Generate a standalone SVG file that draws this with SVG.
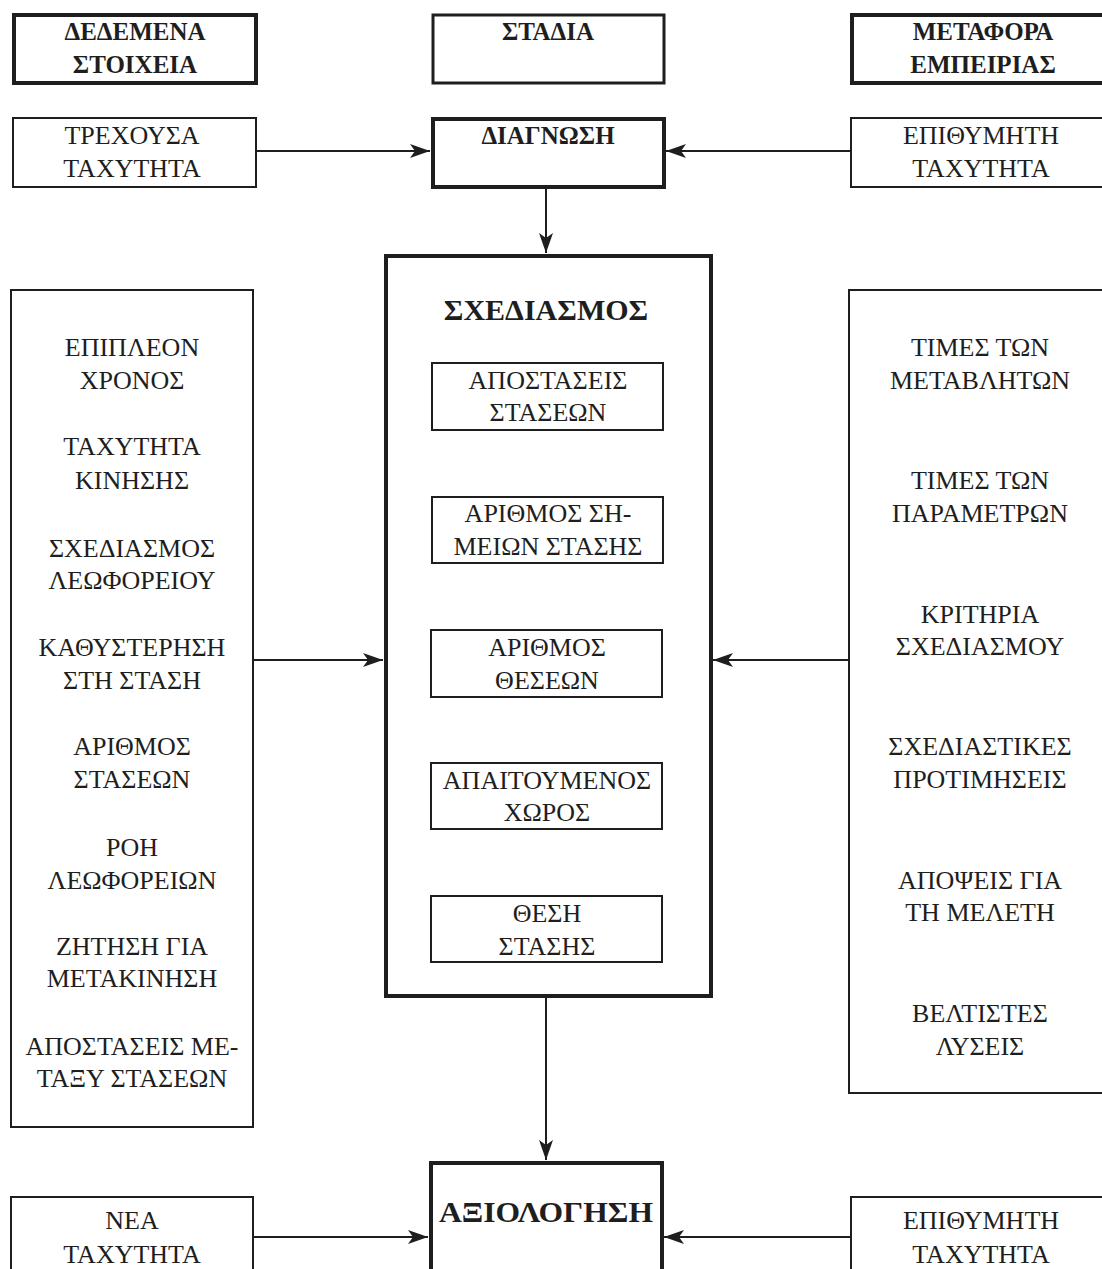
<svg xmlns="http://www.w3.org/2000/svg" width="1102" height="1269" viewBox="0 0 1102 1269">
<style>
.bx{fill:#fff;stroke:#1e1e1e;stroke-width:2}
.tk{fill:#fff;stroke:#1e1e1e;stroke-width:4}
.t{font-family:"Liberation Serif","DejaVu Serif",serif;font-size:26px;fill:#1e1e1e;text-anchor:middle}
.b{font-family:"Liberation Serif","DejaVu Serif",serif;font-size:25px;font-weight:bold;fill:#1e1e1e;text-anchor:middle}
.h{font-family:"Liberation Serif","DejaVu Serif",serif;font-size:30px;font-weight:bold;fill:#1e1e1e;text-anchor:middle}
.ln{fill:none;stroke:#1e1e1e;stroke-width:2;marker-end:url(#ah)}
</style>
<defs>
<marker id="ah" markerUnits="userSpaceOnUse" markerWidth="22" markerHeight="16" refX="20" refY="7" orient="auto">
<path d="M0,0 L20,7 L0,14 L5,7 z" fill="#1e1e1e"/>
</marker>
</defs>
<rect width="1102" height="1269" fill="#fff"/>
<g id="connectors">
<line class="ln" x1="256" y1="151" x2="430" y2="151"/>
<line class="ln" x1="850" y1="151" x2="666" y2="151"/>
<line class="ln" x1="546" y1="187" x2="546" y2="253"/>
<line class="ln" x1="253" y1="660" x2="383" y2="660"/>
<line class="ln" x1="848" y1="660" x2="713" y2="660"/>
<line class="ln" x1="545" y1="430" x2="545" y2="495"/>
<line class="ln" x1="545" y1="563" x2="545" y2="628"/>
<line class="ln" x1="545" y1="697" x2="545" y2="761"/>
<line class="ln" x1="545" y1="829" x2="545" y2="894"/>
<line class="ln" x1="546" y1="997" x2="546" y2="1160"/>
<line class="ln" x1="253" y1="1237" x2="428" y2="1237"/>
<line class="ln" x1="850" y1="1237" x2="664" y2="1237"/>
</g>
<g id="hdr-dedomena"><rect class="tk" x="14" y="15" width="242" height="68"/><text class="b" x="135" y="40">ΔΕΔΕΜΕΝΑ</text><text class="b" x="135" y="73">ΣΤΟΙΧΕΙΑ</text></g>
<g id="hdr-stadia"><rect class="tk" x="433" y="15" width="231" height="68" style="stroke-width:3"/><text class="b" x="548" y="40">ΣΤΑΔΙΑ</text></g>
<g id="hdr-metafora"><rect class="tk" x="852" y="15" width="254" height="68"/><text class="b" x="983" y="40">ΜΕΤΑΦΟΡΑ</text><text class="b" x="983" y="73">ΕΜΠΕΙΡΙΑΣ</text></g>
<g id="trexousa"><rect class="bx" x="13" y="118" width="243" height="69"/><text class="t" x="132" y="144">ΤΡΕΧΟΥΣΑ</text><text class="t" x="132" y="177">ΤΑΧΥΤΗΤΑ</text></g>
<g id="diagnosi"><rect class="tk" x="433" y="119" width="231" height="68"/><text class="b" x="548" y="144">ΔΙΑΓΝΩΣΗ</text></g>
<g id="epithymiti1"><rect class="bx" x="851" y="118" width="255" height="69"/><text class="t" x="981" y="144">ΕΠΙΘΥΜΗΤΗ</text><text class="t" x="981" y="177">ΤΑΧΥΤΗΤΑ</text></g>
<g id="left-data"><rect class="bx" x="11" y="290" width="242" height="837"/>
<text class="t" x="132" y="356">ΕΠΙΠΛΕΟΝ</text><text class="t" x="132" y="389">ΧΡΟΝΟΣ</text>
<text class="t" x="132" y="455">ΤΑΧΥΤΗΤΑ</text><text class="t" x="132" y="489">ΚΙΝΗΣΗΣ</text>
<text class="t" x="132" y="557">ΣΧΕΔΙΑΣΜΟΣ</text><text class="t" x="132" y="589">ΛΕΩΦΟΡΕΙΟΥ</text>
<text class="t" x="132" y="656">ΚΑΘΥΣΤΕΡΗΣΗ</text><text class="t" x="132" y="689">ΣΤΗ ΣΤΑΣΗ</text>
<text class="t" x="132" y="755">ΑΡΙΘΜΟΣ</text><text class="t" x="132" y="788">ΣΤΑΣΕΩΝ</text>
<text class="t" x="132" y="856">ΡΟΗ</text><text class="t" x="132" y="889">ΛΕΩΦΟΡΕΙΩΝ</text>
<text class="t" x="132" y="955">ΖΗΤΗΣΗ ΓΙΑ</text><text class="t" x="132" y="987">ΜΕΤΑΚΙΝΗΣΗ</text>
<text class="t" x="132" y="1055">ΑΠΟΣΤΑΣΕΙΣ ΜΕ-</text><text class="t" x="132" y="1087">ΤΑΞΥ ΣΤΑΣΕΩΝ</text>
</g>
<g id="schediasmos"><rect class="tk" x="386" y="256" width="325" height="740"/><text class="h" x="546" y="320">ΣΧΕΔΙΑΣΜΟΣ</text></g>
<g id="apostaseis"><rect class="bx" x="432" y="363" width="231" height="67"/><text class="t" x="548" y="389">ΑΠΟΣΤΑΣΕΙΣ</text><text class="t" x="548" y="421">ΣΤΑΣΕΩΝ</text></g>
<g id="arithmos-simeion"><rect class="bx" x="432" y="497" width="231" height="66"/><text class="t" x="548" y="522">ΑΡΙΘΜΟΣ ΣΗ-</text><text class="t" x="548" y="555">ΜΕΙΩΝ ΣΤΑΣΗΣ</text></g>
<g id="arithmos-theseon"><rect class="bx" x="431" y="630" width="231" height="67"/><text class="t" x="547" y="656">ΑΡΙΘΜΟΣ</text><text class="t" x="547" y="689">ΘΕΣΕΩΝ</text></g>
<g id="apaitoumenos"><rect class="bx" x="431" y="763" width="231" height="66"/><text class="t" x="547" y="789">ΑΠΑΙΤΟΥΜΕΝΟΣ</text><text class="t" x="547" y="821">ΧΩΡΟΣ</text></g>
<g id="thesi"><rect class="bx" x="431" y="896" width="231" height="66"/><text class="t" x="547" y="922">ΘΕΣΗ</text><text class="t" x="547" y="955">ΣΤΑΣΗΣ</text></g>
<g id="right-exp"><rect class="bx" x="849" y="290" width="257" height="803"/>
<text class="t" x="980" y="356">ΤΙΜΕΣ ΤΩΝ</text><text class="t" x="980" y="389">ΜΕΤΑΒΛΗΤΩΝ</text>
<text class="t" x="980" y="489">ΤΙΜΕΣ ΤΩΝ</text><text class="t" x="980" y="522">ΠΑΡΑΜΕΤΡΩΝ</text>
<text class="t" x="980" y="623">ΚΡΙΤΗΡΙΑ</text><text class="t" x="980" y="655">ΣΧΕΔΙΑΣΜΟΥ</text>
<text class="t" x="980" y="755">ΣΧΕΔΙΑΣΤΙΚΕΣ</text><text class="t" x="980" y="788">ΠΡΟΤΙΜΗΣΕΙΣ</text>
<text class="t" x="980" y="889">ΑΠΟΨΕΙΣ ΓΙΑ</text><text class="t" x="980" y="921">ΤΗ ΜΕΛΕΤΗ</text>
<text class="t" x="980" y="1022">ΒΕΛΤΙΣΤΕΣ</text><text class="t" x="980" y="1055">ΛΥΣΕΙΣ</text>
</g>
<g id="axiologisi"><rect class="tk" x="431" y="1163" width="231" height="120"/><text class="h" x="546" y="1222" textLength="214" lengthAdjust="spacingAndGlyphs">ΑΞΙΟΛΟΓΗΣΗ</text></g>
<g id="nea"><rect class="bx" x="11" y="1197" width="242" height="90"/><text class="t" x="132" y="1229">ΝΕΑ</text><text class="t" x="132" y="1263">ΤΑΧΥΤΗΤΑ</text></g>
<g id="epithymiti2"><rect class="bx" x="851" y="1197" width="255" height="90"/><text class="t" x="981" y="1229">ΕΠΙΘΥΜΗΤΗ</text><text class="t" x="981" y="1263">ΤΑΧΥΤΗΤΑ</text></g>
</svg>
